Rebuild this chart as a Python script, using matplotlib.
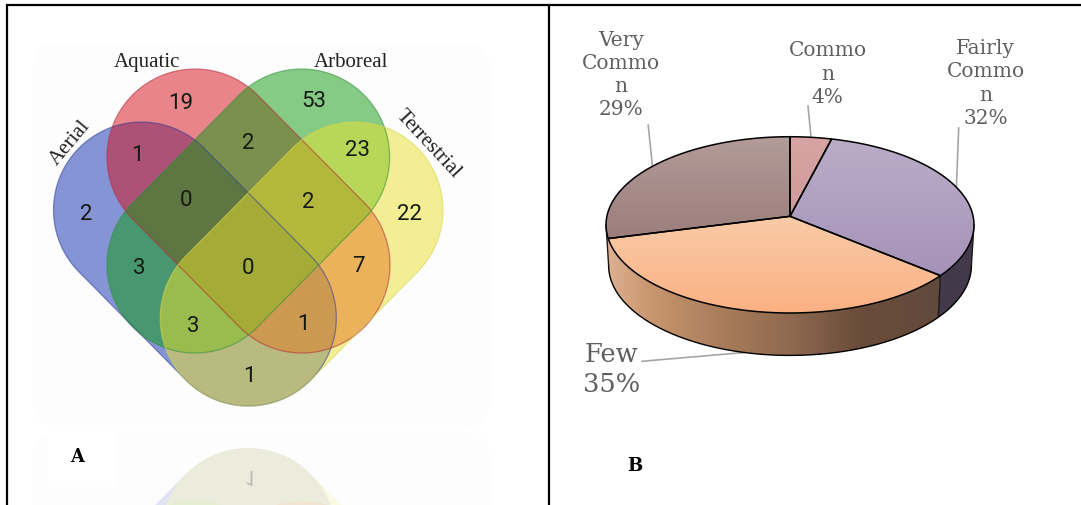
import numpy as np
import matplotlib
matplotlib.use("Agg")
import matplotlib.pyplot as plt
from matplotlib.patches import Polygon, FancyBboxPatch, PathPatch
from matplotlib.textpath import TextPath
from matplotlib.font_manager import FontProperties
from matplotlib.colors import LinearSegmentedColormap

# ---- data -------------------------------------------------------------
habitats = ["Aerial", "Aquatic", "Arboreal", "Terrestrial"]
region_counts = [19, 53, 1, 2, 23, 0, 2, 2, 22, 3, 0, 7, 3, 1, 1]
pie_names = ["Commo\nn", "Fairly\nCommo\nn", "Few", "Very\nCommo\nn"]
pie_values = [4, 32, 35, 29]

# ---- venn layout (pixel axes) -------------------------------------------
radius = 88
capsules = [
    ((141.5, 211), (248.3, 319)),
    ((195, 158), (302, 266)),
    ((301.6, 158), (195, 266)),
    ((355, 211), (248.3, 319)),
]
fills = ["#0f2dAF", "#D70F19", "#0F9B0F", "#EBE12D"]
edges = ["#2f3f96", "#b52a3a", "#2f8f3a", "#d8d84a"]
count_xy = [(180.6, 103), (314, 101), (137, 155), (248, 143), (357, 150),
            (186, 201), (308, 202), (86, 215), (410, 214), (139, 269),
            (248.3, 268), (358.5, 266), (193, 326), (303, 325), (249, 376)]
name_xy = [(70, 143, 50), (146.6, 62, 0), (350.8, 62, 0), (428.6, 144, -47)]
mirror_y = 856

# ---- pie layout ---------------------------------------------------------
pie_cx, pie_cy = 790.0, 217.3
pie_ax, pie_by, pie_k = 183.1, 87.3, 0.097
depth, depth_scale, wall_x_scale = 40.5, 1.02, 0.986
top_grads = [("#D7A3A3", "#D29A9A"), ("#BAADC8", "#A592B8"),
             ("#F8CBA8", "#FCB183"), ("#B29B98", "#9C7E7C")]
few_wall_x = [605, 650, 720, 790, 860, 945]
few_wall_c = ["#E0B294", "#C8966F", "#A97C5B", "#8F6A50", "#6A4C3A", "#614A3C"]
label_xy = [(827.7, 74), (985.5, 83.5), (611.5, 369.5), (621, 75)]
label_size = [14.5, 14.5, 18.5, 14.5]
label_gap = [1.27, 1.27, 1.27, 1.27]
leaders = [((808, 107), (811, 138)), ((958.7, 129), (956.4, 188)),
           ((642, 362.3), (746.4, 353.3)), ((648.2, 126), (652.3, 166))]


def capsule_outline(p0, p1, r, n=90):
    """Outline of the convex hull of two equal circles."""
    p0, p1 = np.asarray(p0, float), np.asarray(p1, float)
    ang = np.arctan2(*(p1 - p0)[::-1])
    t0 = np.linspace(ang + np.pi / 2, ang + 3 * np.pi / 2, n)
    t1 = np.linspace(ang - np.pi / 2, ang + np.pi / 2, n)
    a = p0 + r * np.c_[np.cos(t0), np.sin(t0)]
    b = p1 + r * np.c_[np.cos(t1), np.sin(t1)]
    return np.vstack([a, b])


def rim(frac):
    """Project a fraction of the pie circle onto the tilted top face."""
    th = 2 * np.pi * np.asarray(frac, float)
    u, v = np.sin(th), np.cos(th)
    w = 1 + pie_k * v
    return pie_cx + pie_ax * u / w, pie_cy - pie_by * v / w


def lower_rim(x, y):
    return pie_cx + (x - pie_cx) * wall_x_scale, pie_cy + (y - pie_cy) * depth_scale + depth


def hex_rgb(c):
    return np.array(matplotlib.colors.to_rgb(c))


fig = plt.figure(figsize=(10.81, 5.06), dpi=100)
ax = fig.add_axes([0, 0, 1, 1])
ax.axis("off")

# faint backing cards of the venn panel
ax.add_patch(FancyBboxPatch((33, 43), 457, 385, boxstyle="round,pad=0,rounding_size=28",
                            fc="#FDFDFD", ec="none", zorder=0))
ax.add_patch(FancyBboxPatch((32, 432), 458, 120, boxstyle="round,pad=0,rounding_size=28",
                            fc="#FBFBF9", ec="none", zorder=0))

# mirrored venn below the main one, washed out with a white veil
for (p0, p1), fc in zip(capsules, fills):
    pts = capsule_outline(p0, p1, radius)
    pts[:, 1] = mirror_y - pts[:, 1]
    ax.add_patch(Polygon(pts, closed=True, fc=fc, ec="none", alpha=0.5, zorder=1))
ax.add_patch(plt.Rectangle((0, 432), 560, 80, fc="white", ec="none", alpha=0.74, zorder=1.5))
ax.add_patch(plt.Rectangle((48, 433), 70, 55, fc="white", ec="none", zorder=1.6))
digit_path = TextPath((-4, 0), str(region_counts[-1]), size=21,
                      prop=FontProperties(family="Roboto"))
ax.add_patch(PathPatch(digit_path.transformed(
    matplotlib.transforms.Affine2D().translate(249, mirror_y - 376 - 8)),
    fc="#BDBDB4", ec="none", zorder=1.7))

# venn sets
for i, ((p0, p1), fc) in enumerate(zip(capsules, fills)):
    pts = capsule_outline(p0, p1, radius)
    ax.add_patch(Polygon(pts, closed=True, fc=fc, ec="none", alpha=0.5, zorder=2 + i * 0.1))
for (p0, p1), ec in zip(capsules, edges):
    pts = capsule_outline(p0, p1, radius)
    ax.add_patch(Polygon(pts, closed=True, fc="none", ec=ec, lw=0.9, alpha=0.55, zorder=3))

for val, (x, y) in zip(region_counts, count_xy):
    ax.text(x, y, str(val), ha="center", va="center", fontsize=16,
            family="Roboto", color="#141a14", zorder=4)
for name, (x, y, rot) in zip(habitats, name_xy):
    ax.text(x, y, name, ha="center", va="center", rotation=rot, rotation_mode="anchor",
            fontsize=15, family="Liberation Serif", color="#222222", zorder=4)

# pie: cumulative boundaries taken from the values
total = sum(pie_values)
bounds = np.cumsum([0] + pie_values) / total
fine = np.linspace(0, 1, 1441)
fx, fy = rim(fine)
right_tan = fine[np.argmax(fx)]
left_tan = fine[np.argmin(fx)]


def wall_polygon(f0, f1):
    ff = np.linspace(f0, f1, 200)
    x, y = rim(ff)
    bx, by = lower_rim(x, y)
    return np.vstack([np.c_[x, y], np.c_[bx, by][::-1]])


# side walls
few_start, few_end = bounds[2], bounds[3]
grad_x = np.linspace(600, 950, 350)
grad_rgb = np.array([np.interp(grad_x, few_wall_x, [hex_rgb(c)[j] for c in few_wall_c])
                     for j in range(3)]).T
im = ax.imshow(grad_rgb[None, :, :], extent=(600, 950, 370, 230), aspect="auto", zorder=5)
im.set_clip_path(Polygon(wall_polygon(few_start, left_tan), closed=True, transform=ax.transData))
ax.add_patch(Polygon(wall_polygon(right_tan, few_start), closed=True, fc="#44394A", ec="none", zorder=5.1))

# silhouette of the walls and the single visible divider
sweep = np.linspace(right_tan, left_tan, 400)
sx, sy = rim(sweep)
bx, by = lower_rim(sx, sy)
ax.plot(bx, by, color="black", lw=1.0, zorder=5.2)
for f in (right_tan, left_tan, few_start):
    tx, ty = rim(f)
    lx, ly = lower_rim(tx, ty)
    ax.plot([tx, lx], [ty, ly], color="#1a1a1a", lw=1.0, zorder=5.2)

# top face slices with a vertical shading
for i, (c_top, c_bot) in enumerate(top_grads):
    ff = np.linspace(bounds[i], bounds[i + 1], 200)
    x, y = rim(ff)
    pts = np.vstack([[pie_cx, pie_cy], np.c_[x, y]])
    ymin, ymax = pts[:, 1].min(), pts[:, 1].max()
    cmap = LinearSegmentedColormap.from_list("shade", [c_top, c_bot])
    im = ax.imshow(np.linspace(0, 1, 128)[:, None], extent=(pts[:, 0].min(), pts[:, 0].max(), ymax, ymin),
                   cmap=cmap, aspect="auto", zorder=6)
    im.set_clip_path(Polygon(pts, closed=True, transform=ax.transData))
    ax.add_patch(Polygon(pts, closed=True, fc="none", ec="black", lw=1.1, zorder=7))

# pie labels and leader lines
for name, val, (x, y), fs, gap, (a, b) in zip(pie_names, pie_values, label_xy, label_size, label_gap, leaders):
    ax.text(x, y, f"{name}\n{val}%", ha="center", va="center", multialignment="center",
            fontsize=fs, family="DejaVu Serif", color="#5F5F5F", linespacing=gap, zorder=8)
    ax.plot([a[0], b[0]], [a[1], b[1]], color="#A6A6A6", lw=1.2, zorder=4.5)

# panel letters
ax.text(77.5, 457, "A", ha="center", va="center", fontsize=13, weight="bold",
        family="DejaVu Serif", color="black", zorder=8)
ax.text(635.3, 465.7, "B", ha="center", va="center", fontsize=13, weight="bold",
        family="DejaVu Serif", color="black", zorder=8)

# table rules around the panels
for xs, ys in [((6, 1081), (6, 6)), ((7, 7), (6, 506)), ((548.5, 548.5), (6, 506))]:
    ax.plot(xs, ys, color="black", lw=1.6, solid_capstyle="butt", zorder=9)

ax.set_xlim(0, 1081)
ax.set_ylim(506, 0)
fig.savefig("out.png", dpi=100, facecolor="white")
